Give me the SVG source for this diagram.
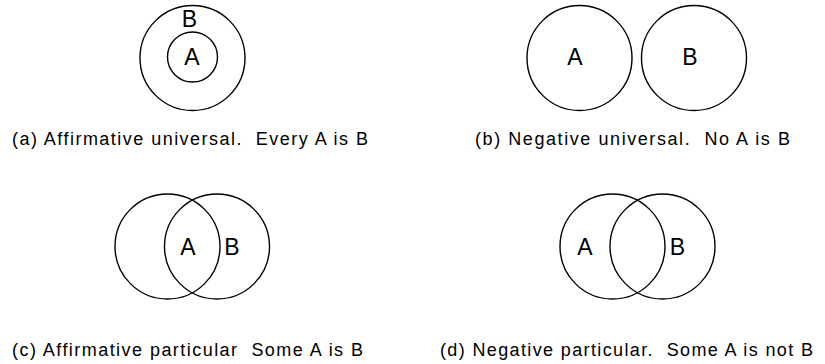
<svg xmlns="http://www.w3.org/2000/svg" width="825" height="364" viewBox="0 0 825 364">
<style>
.c{fill:none;stroke:#000;stroke-width:1.4}
.l{font-family:"Liberation Sans",Arial,sans-serif;font-size:23px;fill:#000;text-anchor:middle}
.cap{font-family:"Liberation Sans",Arial,sans-serif;font-size:18px;fill:#000}
</style>
<rect width="825" height="364" fill="#fff"/>
<g id="diagram-a">
<circle class="c" cx="192.5" cy="58" r="52.5"/>
<circle class="c" cx="192.5" cy="57" r="25"/>
<text class="l" x="189.5" y="27">B</text>
<text class="l" x="192" y="65">A</text>
<text class="cap" x="12" y="145" textLength="356" lengthAdjust="spacing" xml:space="preserve">(a) Affirmative universal.  Every A is B</text>
</g>
<g id="diagram-b">
<circle class="c" cx="579.5" cy="58" r="52.5"/>
<circle class="c" cx="694" cy="58" r="52.5"/>
<text class="l" x="575" y="65">A</text>
<text class="l" x="690" y="65">B</text>
<text class="cap" x="475" y="145" textLength="315" lengthAdjust="spacing" xml:space="preserve">(b) Negative universal.  No A is B</text>
</g>
<g id="diagram-c">
<circle class="c" cx="167.5" cy="246.5" r="52.5"/>
<circle class="c" cx="217" cy="246.5" r="52.5"/>
<text class="l" x="188" y="255">A</text>
<text class="l" x="232" y="255">B</text>
<text class="cap" x="12" y="356" textLength="351" lengthAdjust="spacing" xml:space="preserve">(c) Affirmative particular  Some A is B</text>
</g>
<g id="diagram-d">
<circle class="c" cx="612.5" cy="246.5" r="52.5"/>
<circle class="c" cx="662.5" cy="246.5" r="52.5"/>
<text class="l" x="585" y="255">A</text>
<text class="l" x="677.5" y="255">B</text>
<text class="cap" x="440" y="356" textLength="373" lengthAdjust="spacing" xml:space="preserve">(d) Negative particular.  Some A is not B</text>
</g>
<g id="connectors"></g>
</svg>
